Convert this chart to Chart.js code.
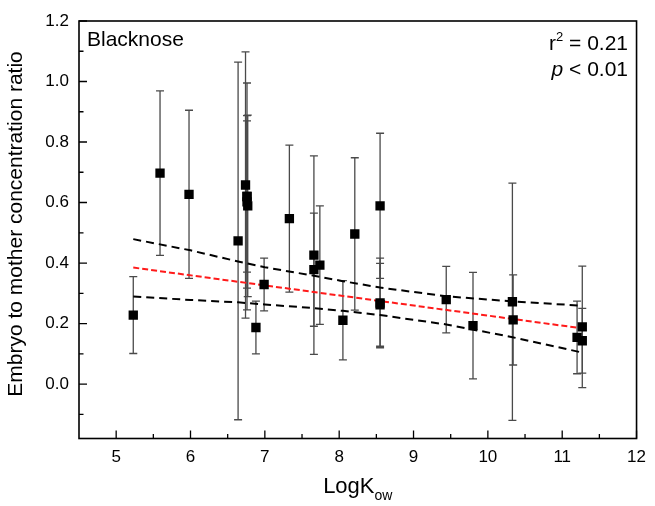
<!DOCTYPE html>
<html>
<head>
<meta charset="utf-8">
<script src="https://cdn.jsdelivr.net/npm/chart.js@4.4.1/dist/chart.umd.min.js"></script>
<style>
  html, body { margin: 0; padding: 0; background: #fff; }
  #wrap { width: 655px; height: 506px; position: relative; }
</style>
</head>
<body>
<div id="wrap"><canvas id="chart"></canvas></div>
<script>
// ── Data ──────────────────────────────────────────────────────
const kowX = [5.23, 5.59, 5.98, 6.64, 6.74, 6.76, 6.76, 6.76, 6.77, 6.88, 6.99, 7.33, 7.66, 7.66,
  7.74, 8.05, 8.21, 8.55, 8.55, 8.55, 9.44, 9.80, 10.33, 10.34, 11.20, 11.27, 11.27];
const ratioY = [0.228, 0.697, 0.627, 0.473, 0.658, 0.620, 0.620, 0.602, 0.589, 0.187, 0.329, 0.547, 0.426, 0.378,
  0.393, 0.211, 0.496, 0.589, 0.268, 0.262, 0.279, 0.193, 0.272, 0.212, 0.154, 0.189, 0.143];
const ratioErr = [0.127, 0.272, 0.278, 0.591, 0.440, 0.375, 0.250, 0.285, 0.300, 0.087, 0.087, 0.243, 0.328, 0.187,
  0.196, 0.131, 0.252, 0.240, 0.148, 0.137, 0.110, 0.176, 0.392, 0.149, 0.120, 0.201, 0.107];

// regression line and 95% band
const fitX = [5.23, 11.27];
const fitY = [0.385, 0.184];
const bandX = [5.23, 6.0, 6.64, 7.0, 7.66, 8.05, 8.55, 9.44, 10.33, 11.27];
const bandUpper = [0.479, 0.442, 0.405, 0.386, 0.358, 0.340, 0.319, 0.290, 0.273, 0.259];
const bandLower = [0.289, 0.278, 0.270, 0.263, 0.251, 0.242, 0.228, 0.197, 0.155, 0.104];

// tick values
const xTicks = [5, 5.5, 6, 6.5, 7, 7.5, 8, 8.5, 9, 9.5, 10, 10.5, 11, 11.5, 12];
const yTicks = [-0.1, 0, 0.1, 0.2, 0.3, 0.4, 0.5, 0.6, 0.7, 0.8, 0.9, 1.0, 1.1, 1.2];

const FONT = '"Liberation Sans", Arial, sans-serif';
const pts = (xs, ys) => xs.map((x, i) => ({ x: x, y: ys[i] }));

// ── Error bars ────────────────────────────────────────────────
const errorBars = {
  id: 'errorBars',
  beforeDatasetsDraw(chart) {
    const { ctx, scales: { x, y } } = chart;
    ctx.save();
    ctx.strokeStyle = '#4a4a4a';
    ctx.lineWidth = 1.3;
    kowX.forEach((kx, i) => {
      const px = x.getPixelForValue(kx);
      const top = y.getPixelForValue(ratioY[i] + ratioErr[i]);
      const bot = y.getPixelForValue(ratioY[i] - ratioErr[i]);
      ctx.beginPath();
      ctx.moveTo(px, top); ctx.lineTo(px, bot);
      ctx.moveTo(px - 4, top); ctx.lineTo(px + 4, top);
      ctx.moveTo(px - 4, bot); ctx.lineTo(px + 4, bot);
      ctx.stroke();
    });
    ctx.restore();
  }
};

// ── Frame, ticks and text ─────────────────────────────────────
const frame = {
  id: 'frame',
  afterDraw(chart) {
    const { ctx, chartArea: a, scales: { x, y } } = chart;
    ctx.save();
    ctx.strokeStyle = '#000';
    ctx.lineWidth = 1.6;
    ctx.strokeRect(a.left, a.top, a.right - a.left, a.bottom - a.top);

    ctx.lineWidth = 1.3;
    ctx.beginPath();
    x.ticks.forEach(t => {
      const px = x.getPixelForValue(t.value);
      const len = Number.isInteger(t.value) ? 8 : 4.5;
      ctx.moveTo(px, a.bottom); ctx.lineTo(px, a.bottom - len);
    });
    y.ticks.forEach(t => {
      const py = y.getPixelForValue(t.value);
      const major = Math.abs(Math.round(t.value * 10)) % 2 === 0;
      ctx.moveTo(a.left, py); ctx.lineTo(a.left + (major ? 8 : 4.5), py);
    });
    ctx.stroke();

    ctx.fillStyle = '#000';
    ctx.textBaseline = 'alphabetic';

    // x title with subscript
    ctx.font = '22px ' + FONT;
    const wMain = ctx.measureText('LogK').width;
    ctx.font = '14px ' + FONT;
    const wSub = ctx.measureText('ow').width;
    const sx = (a.left + a.right) / 2 - (wMain + wSub) / 2;
    ctx.font = '22px ' + FONT;
    ctx.textAlign = 'left';
    ctx.fillText('LogK', sx, 493);
    ctx.font = '14px ' + FONT;
    ctx.fillText('ow', sx + wMain, 500);

    // y title
    ctx.save();
    ctx.translate(22, 224);
    ctx.rotate(-Math.PI / 2);
    ctx.font = '21px ' + FONT;
    ctx.textAlign = 'center';
    ctx.fillText('Embryo to mother concentration ratio', 0, 0);
    ctx.restore();

    // panel label
    ctx.font = '21px ' + FONT;
    ctx.textAlign = 'left';
    ctx.fillText('Blacknose', a.left + 8, 46);

    // statistics, right aligned
    const rx = 628;
    ctx.font = '21px ' + FONT;
    const wRest = ctx.measureText(' = 0.21').width;
    const wR = ctx.measureText('r').width;
    ctx.font = '13px ' + FONT;
    const wSup = ctx.measureText('2').width;
    let cx = rx - wRest - wSup - wR;
    ctx.font = '21px ' + FONT;
    ctx.fillText('r', cx, 50);
    ctx.font = '13px ' + FONT;
    ctx.fillText('2', cx + wR, 41);
    ctx.font = '21px ' + FONT;
    ctx.fillText(' = 0.21', cx + wR + wSup, 50);

    const wLt = ctx.measureText(' < 0.01').width;
    ctx.font = 'italic 21px ' + FONT;
    const wP = ctx.measureText('p').width;
    cx = rx - wLt - wP;
    ctx.fillText('p', cx, 76);
    ctx.font = '21px ' + FONT;
    ctx.fillText(' < 0.01', cx + wP, 76);
    ctx.restore();
  }
};

const lineSet = (data, color, dash) => ({
  type: 'scatter',
  data: data,
  showLine: true,
  borderColor: color,
  borderWidth: 2,
  borderDash: dash,
  pointRadius: 0,
  fill: false,
  tension: 0
});

new Chart(document.getElementById('chart').getContext('2d'), {
  type: 'scatter',
  data: {
    datasets: [
      {
        label: 'Blacknose',
        data: pts(kowX, ratioY),
        pointStyle: 'rect',
        pointRadius: 6.6,
        backgroundColor: '#000',
        borderWidth: 0,
        order: 0
      },
      Object.assign(lineSet(pts(fitX, fitY), '#ff1a1a', [6, 3]), { order: 1 }),
      Object.assign(lineSet(pts(bandX, bandUpper), '#000', [8, 5]), { order: 1 }),
      Object.assign(lineSet(pts(bandX, bandLower), '#000', [8, 5]), { order: 1 })
    ]
  },
  options: {
    responsive: true,
    maintainAspectRatio: false,
    animation: false,
    layout: { padding: { left: 0, top: 21, right: 12, bottom: 0 } },
    plugins: { legend: { display: false }, tooltip: { enabled: false } },
    scales: {
      x: {
        type: 'linear',
        min: 4.5,
        max: 12,
        afterBuildTicks: s => { s.ticks = xTicks.map(v => ({ value: v })); },
        afterFit: s => { s.height = 67.5; },
        grid: { display: false, drawTicks: false },
        border: { display: false },
        ticks: {
          padding: 9,
          color: '#000',
          font: { family: FONT, size: 17 },
          maxRotation: 0,
          autoSkip: false,
          callback: v => Number.isInteger(v) ? String(v) : ''
        }
      },
      y: {
        type: 'linear',
        min: -0.18,
        max: 1.2,
        afterBuildTicks: s => { s.ticks = yTicks.map(v => ({ value: v })); },
        afterFit: s => { s.width = 79; },
        grid: { display: false, drawTicks: false },
        border: { display: false },
        ticks: {
          padding: 10,
          color: '#000',
          font: { family: FONT, size: 17 },
          autoSkip: false,
          callback: v => (v >= -0.001 && Math.abs(Math.round(v * 10)) % 2 === 0) ? v.toFixed(1) : ''
        }
      }
    }
  },
  plugins: [errorBars, frame]
});
</script>
</body>
</html>
